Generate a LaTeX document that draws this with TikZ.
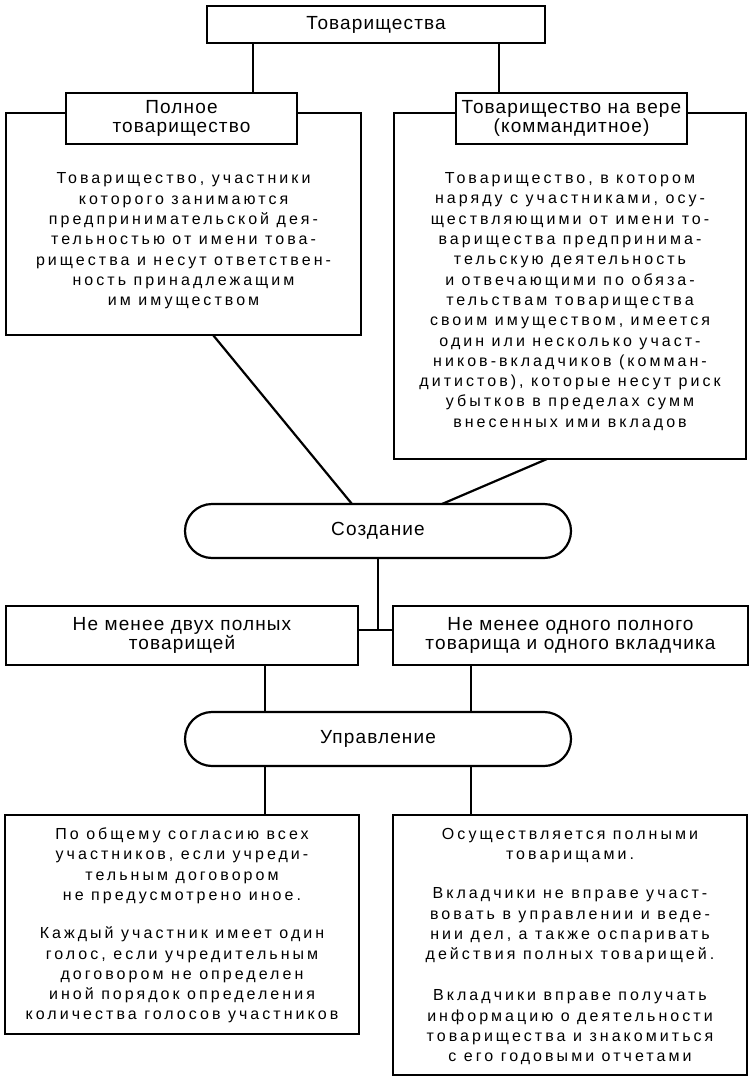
\documentclass[tikz,border=0pt]{standalone}
\usepackage{fontspec}
\setmainfont{Liberation Sans}
\newfontfamily\headf[LetterSpace=6]{Liberation Sans}
\newfontfamily\bodyf[LetterSpace=19]{Liberation Sans}
\usetikzlibrary{shapes.misc,calc}
\begin{document}
\begin{tikzpicture}[x=1pt,y=-1pt,
  box/.style={draw, line width=2.2pt, fill=white, inner sep=0pt, outer sep=0pt, align=center},
  pill/.style={box, rounded rectangle},
  headtext/.style={font=\headf\fontsize{19}{19.5}\selectfont},
  bodytext/.style={align=center, inner sep=0pt, font=\bodyf\fontsize{16}{20.3}\selectfont},
  conn/.style={line width=2.2pt}]
\useasboundingbox (0,0) rectangle (755,1086);
\fill[white] (0,0) rectangle (755,1086);

% helper coordinates (x positions of connectors)
\coordinate (xa) at (253,0);
\coordinate (xb) at (499,0);
\coordinate (xc) at (213,0);
\coordinate (xd) at (352,0);
\coordinate (xe) at (547,0);
\coordinate (xf) at (442,0);
\coordinate (xg) at (265,0);
\coordinate (xh) at (471,0);
\coordinate (j) at (378,630);

% top-level node
\node[box, headtext, minimum width=338, minimum height=37] (top) at (376,24.5) {Товарищества};

% big boxes
\node[box, minimum width=355, minimum height=222] (lbig) at (183.5,224) {};
\node[box, minimum width=352, minimum height=346] (rbig) at (570,286) {};

% title boxes
\node[box, headtext, minimum width=231, minimum height=51] (pol) at (181.5,118.5) {Полное\\товарищество};
\node[box, headtext, minimum width=231, minimum height=51] (kom) at (571.5,118.5) {Товарищество на вере\\(коммандитное)};

% body texts
\node[bodytext] (ltxt) at (183.5,241) {Товарищество, участники\\которого занимаются\\предпринимательской дея-\\тельностью от имени това-\\рищества и несут ответствен-\\ность принадлежащим\\им имуществом};
\node[bodytext] (rtxt) at (570,301.5) {Товарищество, в котором\\наряду с участниками, осу-\\ществляющими от имени то-\\варищества предпринима-\\тельскую деятельность\\и отвечающими по обяза-\\тельствам товарищества\\своим имуществом, имеется\\один или несколько участ-\\ников-вкладчиков (комман-\\дитистов), которые несут риск\\убытков в пределах сумм\\внесенных ими вкладов};

% creation
\node[pill, headtext, minimum width=386, minimum height=54] (soz) at (378,531) {Создание};
\node[box, headtext, minimum width=352, minimum height=59] (ne1) at (182,635.5) {Не менее двух полных\\товарищей};
\node[box, headtext, minimum width=355, minimum height=59] (ne2) at (570.5,635.5) {Не менее одного полного\\товарища и одного вкладчика};

% management
\node[pill, headtext, minimum width=386, minimum height=54] (upr) at (378,739) {Управление};
\node[box, minimum width=354, minimum height=219] (lbot) at (182,924.5) {};
\node[box, minimum width=354, minimum height=260] (rbot) at (570,945) {};
\node[bodytext] (lbtxt) at (182,925.5) {По общему согласию всех\\участников, если учреди-\\тельным договором\\не предусмотрено иное.\\[18pt]Каждый участник имеет один\\голос, если учредительным\\договором не определен\\иной порядок определения\\количества голосов участников};
\node[bodytext] (rbtxt) at (570,946.5) {Осуществляется полными\\товарищами.\\[19pt]Вкладчики не вправе участ-\\вовать в управлении и веде-\\нии дел, а также оспаривать\\действия полных товарищей.\\[21pt]Вкладчики вправе получать\\информацию о деятельности\\товарищества и знакомиться\\с его годовыми отчетами};

% connectors
\draw[conn] (top.south -| xa) -- (pol.north -| xa);
\draw[conn] (top.south -| xb) -- (kom.north -| xb);
\draw[conn] (lbig.south -| xc) -- (soz.north -| xd);
\draw[conn] (rbig.south -| xe) -- (soz.north -| xf);
\draw[conn] (soz.south) -- (j);
\draw[conn] (ne1.east |- j) -- (ne2.west |- j);
\draw[conn] (ne1.south -| xg) -- (upr.north -| xg);
\draw[conn] (ne2.south -| xh) -- (upr.north -| xh);
\draw[conn] (upr.south -| xg) -- (lbot.north -| xg);
\draw[conn] (upr.south -| xh) -- (rbot.north -| xh);
\end{tikzpicture}
\end{document}
